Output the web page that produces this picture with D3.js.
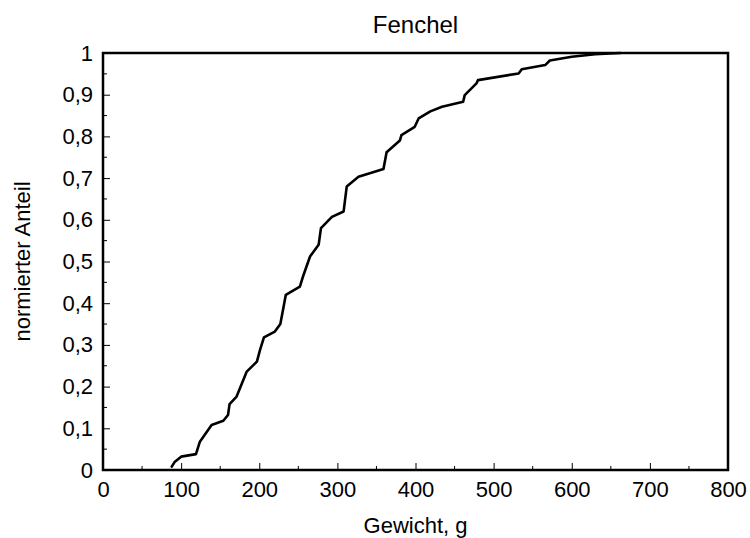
<!DOCTYPE html>
<html>
<head>
<meta charset="utf-8">
<script src="https://cdn.jsdelivr.net/npm/d3@7"></script>
<style>
  body { margin: 0; background: #fff; }
  text { font-family: "Liberation Sans", Arial, sans-serif; fill: #000; }
</style>
</head>
<body>
<div id="chart"></div>
<script>
var weights = [88, 92, 100, 119, 124, 139, 154, 160, 162, 171, 184, 197, 201, 206, 220, 227, 232,
  234, 252, 256, 265, 276, 279, 293, 308, 312, 327, 359, 363, 380, 382, 399, 404, 419, 434,
  461, 463, 478, 480, 532, 536, 566, 572, 600, 630, 662];
var shares = [0.008, 0.02, 0.032, 0.038, 0.068, 0.108, 0.118, 0.132, 0.158, 0.176, 0.236, 0.26, 0.288,
  0.318, 0.332, 0.35, 0.40, 0.42, 0.44, 0.464, 0.512, 0.54, 0.58, 0.607, 0.62, 0.68, 0.703,
  0.722, 0.762, 0.79, 0.803, 0.823, 0.843, 0.86, 0.871, 0.883, 0.899, 0.927, 0.935, 0.951,
  0.961, 0.971, 0.982, 0.991, 0.997, 1.0];

var xTicks = [0, 100, 200, 300, 400, 500, 600, 700, 800];
var yTicks = [0, 0.1, 0.2, 0.3, 0.4, 0.5, 0.6, 0.7, 0.8, 0.9, 1];

var width = 750, height = 538;
var margin = { top: 53, right: 22, bottom: 68, left: 103 };

var data = weights.map(function(w, i) {
  return { x: w, y: shares[i] };
});

var svg = d3.select("#chart")
  .append("svg")
  .attr("width", width)
  .attr("height", height);

var x = d3.scaleLinear().domain([0, 800]).range([margin.left, width - margin.right]);
var y = d3.scaleLinear().domain([0, 1]).range([height - margin.bottom, margin.top]);

var fmt = function(d) { return String(d).replace(".", ","); };

// minor ticks
svg.append("g")
  .selectAll("line")
  .data(d3.range(50, 800, 100))
  .enter().append("line")
  .attr("x1", function(d) { return x(d); })
  .attr("x2", function(d) { return x(d); })
  .attr("y1", y(0))
  .attr("y2", y(0) - 4)
  .attr("stroke", "#000").attr("stroke-width", 1);

svg.append("g")
  .selectAll("line")
  .data(d3.range(0.05, 1, 0.1))
  .enter().append("line")
  .attr("x1", x(0))
  .attr("x2", x(0) + 4)
  .attr("y1", function(d) { return y(d); })
  .attr("y2", function(d) { return y(d); })
  .attr("stroke", "#000").attr("stroke-width", 1);

// x axis
var xAxis = svg.append("g")
  .attr("transform", "translate(0," + y(0) + ")")
  .call(d3.axisBottom(x).tickValues(xTicks).tickSizeInner(-7).tickSizeOuter(0).tickPadding(11));
xAxis.select(".domain").remove();
xAxis.selectAll("text").style("font-size", "22px").attr("dy", "0.72em");

// y axis
var yAxis = svg.append("g")
  .attr("transform", "translate(" + x(0) + ",0)")
  .call(d3.axisLeft(y).tickValues(yTicks).tickFormat(fmt).tickSizeInner(-7).tickSizeOuter(0).tickPadding(10));
yAxis.select(".domain").remove();
yAxis.selectAll("text").style("font-size", "22px");

// frame
svg.append("rect")
  .attr("x", x(0))
  .attr("y", y(1))
  .attr("width", x(800) - x(0))
  .attr("height", y(0) - y(1))
  .attr("fill", "none")
  .attr("stroke", "#000")
  .attr("stroke-width", 2.5);

// curve
var line = d3.line()
  .x(function(d) { return x(d.x); })
  .y(function(d) { return y(d.y); });

svg.append("path")
  .datum(data)
  .attr("d", line)
  .attr("fill", "none")
  .attr("stroke", "#000")
  .attr("stroke-width", 2.6)
  .attr("stroke-linejoin", "round")
  .attr("stroke-linecap", "round");

// titles
svg.append("text")
  .attr("x", (x(0) + x(800)) / 2)
  .attr("y", 33)
  .attr("text-anchor", "middle")
  .style("font-size", "24px")
  .text("Fenchel");

svg.append("text")
  .attr("x", (x(0) + x(800)) / 2)
  .attr("y", 533)
  .attr("text-anchor", "middle")
  .style("font-size", "22px")
  .text("Gewicht, g");

svg.append("text")
  .attr("transform", "translate(30," + (y(0) + y(1)) / 2 + ") rotate(-90)")
  .attr("text-anchor", "middle")
  .style("font-size", "22px")
  .text("normierter Anteil");
</script>
</body>
</html>
